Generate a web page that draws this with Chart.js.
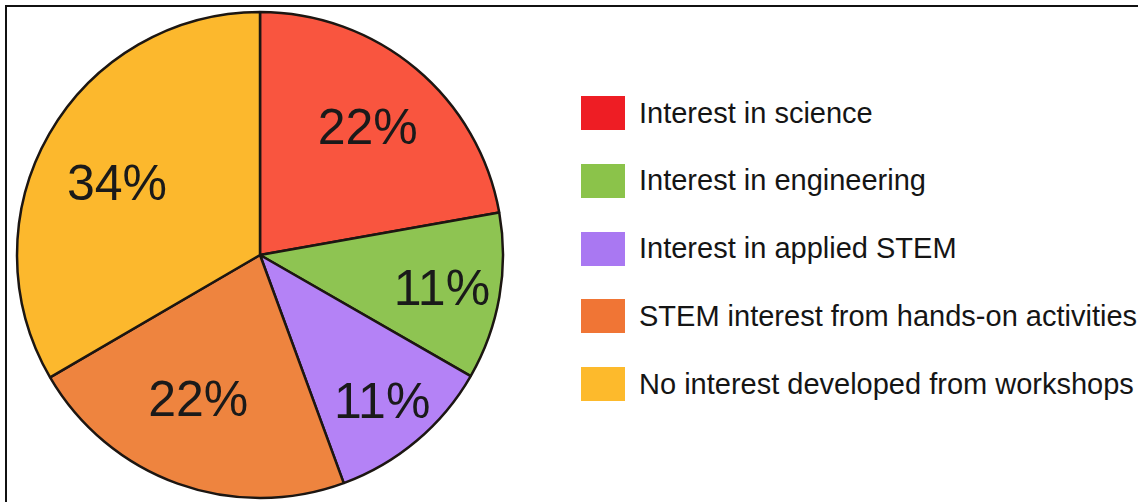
<!DOCTYPE html>
<html>
<head>
<meta charset="utf-8">
<script src="https://cdn.jsdelivr.net/npm/chart.js@4.4.1/dist/chart.umd.min.js"></script>
<style>
  html, body { margin: 0; padding: 0; background: #fff; width: 1138px; height: 502px; overflow: hidden; }
  #frame { position: absolute; left: 5px; top: 5px; width: 1200px; height: 600px;
           border-top: 2.5px solid #111; border-left: 2.5px solid #111; box-sizing: border-box; }
  #pie { position: absolute; left: 0; top: 0; }
  #legend { position: absolute; left: 581px; top: 96px; margin: 0; padding: 0; list-style: none;
            font-family: "Liberation Sans", Arial, sans-serif; font-size: 29px; color: #151515; white-space: nowrap; }
  #legend li { height: 34px; margin: 0 0 33.75px 0; display: flex; align-items: center; }
  #legend .sw { width: 44px; height: 34px; margin-right: 14px; flex: none; }
</style>
</head>
<body>
<div id="frame"></div>
<canvas id="pie" width="520" height="502"></canvas>
<ul id="legend"></ul>
<script>
const categories = [
  "Interest in science",
  "Interest in engineering",
  "Interest in applied STEM",
  "STEM interest from hands-on activities",
  "No interest developed from workshops"
];
const shares = [22.2, 11.1, 11.1, 22.2, 33.4];
const shareLabels = ["22%", "11%", "11%", "22%", "34%"];

const sliceColors  = ["#F9553F", "#8EC452", "#B482F6", "#EE843F", "#FCB82D"];
const legendColors = ["#EE1D24", "#8BC34A", "#A978F2", "#F07535", "#FDBA2C"];
const labelRadius  = [0.69, 0.76, 0.78, 0.64, 0.66];
const labelNudgeDeg = [0, 0, 0, 3.6, -3];

const sliceLabels = {
  id: 'sliceLabels',
  afterDatasetsDraw(chart) {
    const ctx = chart.ctx;
    const meta = chart.getDatasetMeta(0);
    ctx.save();
    ctx.font = '50px "Liberation Sans", Arial, sans-serif';
    ctx.fillStyle = '#1a1a1a';
    ctx.textAlign = 'center';
    ctx.textBaseline = 'alphabetic';
    meta.data.forEach((arc, i) => {
      const p = arc.getProps(['x', 'y', 'startAngle', 'endAngle', 'outerRadius'], true);
      const mid = (p.startAngle + p.endAngle) / 2 + labelNudgeDeg[i] * Math.PI / 180;
      const r = p.outerRadius * labelRadius[i];
      const x = p.x + Math.cos(mid) * r;
      const y = p.y + Math.sin(mid) * r;
      ctx.fillText(shareLabels[i], x, y + 18);
    });
    ctx.restore();
  }
};

const htmlLegend = {
  id: 'htmlLegend',
  afterUpdate(chart) {
    const ul = document.getElementById('legend');
    ul.innerHTML = '';
    chart.data.labels.forEach((lab, i) => {
      const li = document.createElement('li');
      const sw = document.createElement('span');
      sw.className = 'sw';
      sw.style.background = legendColors[i];
      const tx = document.createElement('span');
      tx.textContent = lab;
      li.appendChild(sw);
      li.appendChild(tx);
      ul.appendChild(li);
    });
  }
};

new Chart(document.getElementById('pie'), {
  type: 'pie',
  data: {
    labels: categories,
    datasets: [{
      data: shares,
      backgroundColor: sliceColors,
      borderColor: '#1c1612',
      borderWidth: 2.5,
      hoverOffset: 0,
      radius: 243
    }]
  },
  options: {
    responsive: false,
    animation: false,
    layout: { padding: { left: 17, right: 17, top: 12, bottom: 4 } },
    plugins: { legend: { display: false }, tooltip: { enabled: false } }
  },
  plugins: [sliceLabels, htmlLegend]
});
</script>
</body>
</html>
